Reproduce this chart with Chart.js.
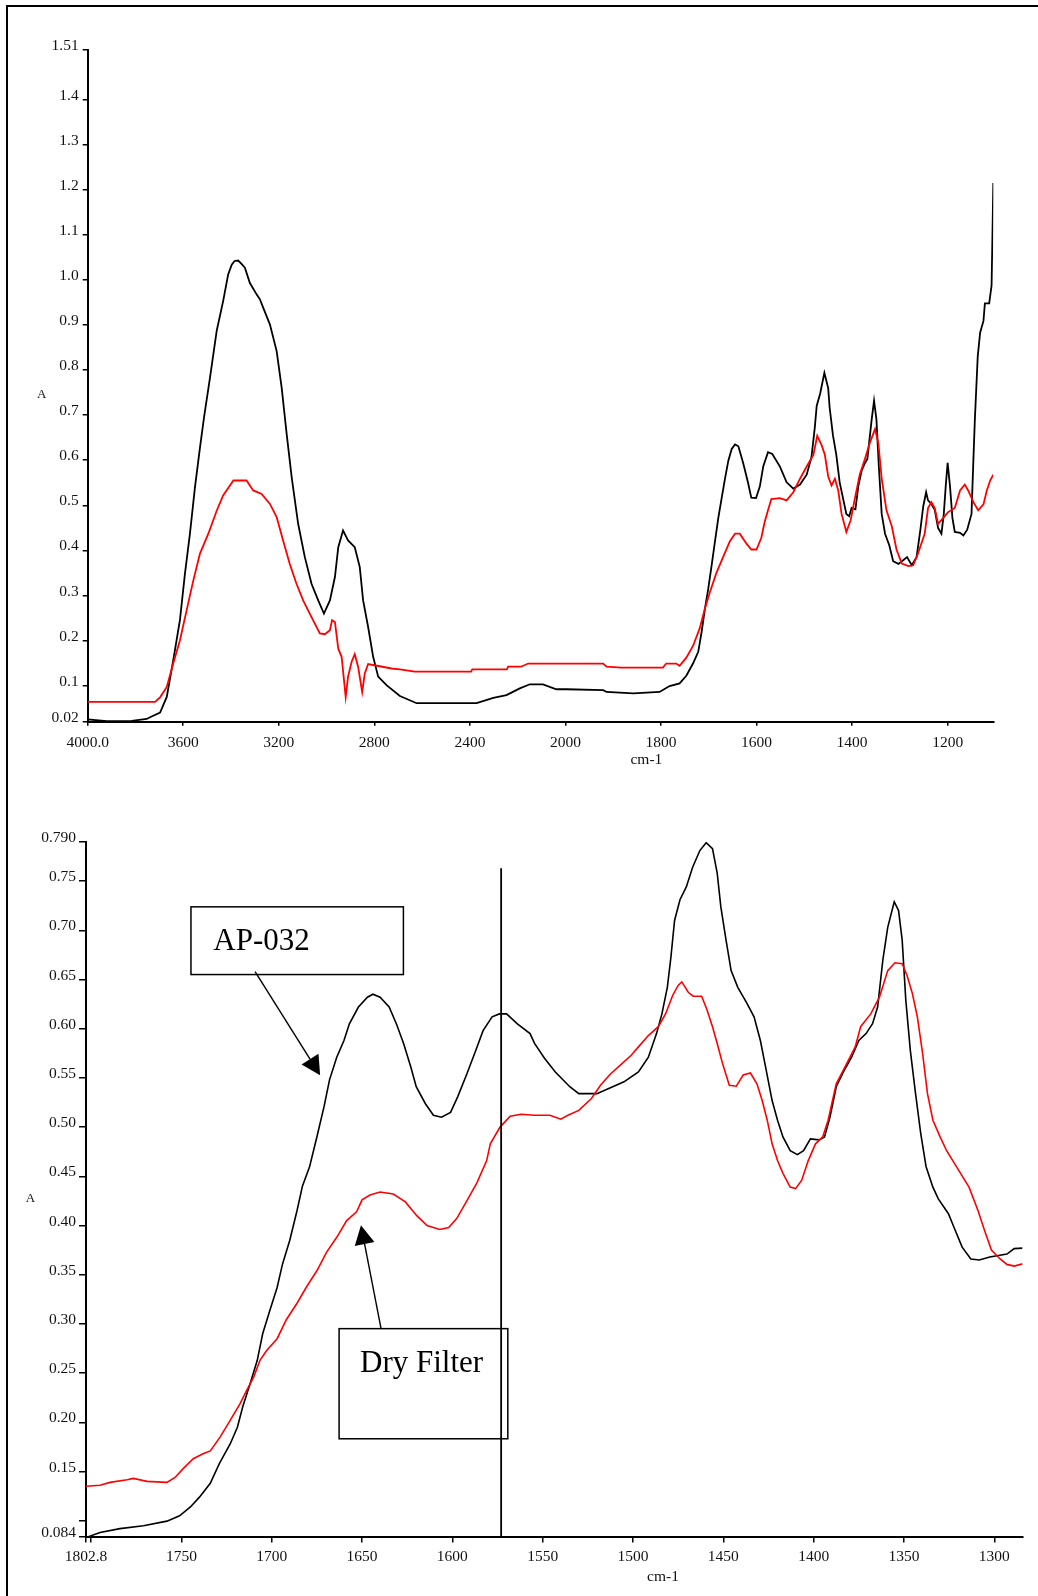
<!DOCTYPE html>
<html>
<head>
<meta charset="utf-8">
<script src="https://cdn.jsdelivr.net/npm/chart.js@4.4.1/dist/chart.umd.min.js"></script>
<style>
  body { margin: 0; background: #fff; }
  #page { position: relative; width: 1038px; height: 1596px; overflow: hidden; background: #fff; }
  #topWrap { position: absolute; left: 0; top: 0; width: 1038px; height: 780px; }
  #botWrap { position: absolute; left: 0; top: 780px; width: 1038px; height: 816px; }
  #frame { position: absolute; left: 6px; top: 5px; width: 1100px; height: 1700px;
           border-left: 2px solid #000; border-top: 2px solid #000; pointer-events: none; }
</style>
</head>
<body>
<div id="page">
  <div id="topWrap"><canvas id="topChart" width="1038" height="780"></canvas></div>
  <div id="botWrap"><canvas id="botChart" width="1038" height="816"></canvas></div>
  <div id="frame"></div>
</div>
<script>
// full spectrum, 4000 - 1105 cm-1 (axis compressed x2 above 2000)
const topBlackWn = [4000, 3920, 3816, 3753, 3739, 3697, 3669, 3642, 3614, 3593, 3572, 3551, 3530, 3513, 3488, 3460, 3433,
  3412, 3397, 3385, 3370, 3355, 3342, 3321, 3293, 3279, 3265, 3237, 3209, 3188, 3167, 3146, 3119, 3091, 3063, 3035, 3011,
  2986, 2965, 2951, 2931, 2910, 2882, 2861, 2847, 2826, 2805, 2784, 2749, 2693, 2623, 2372, 2302, 2247, 2191, 2149, 2094,
  2038, 1998, 1921, 1914, 1858, 1803, 1782, 1761, 1747, 1733, 1722, 1715, 1708, 1701, 1694, 1687, 1680, 1673, 1666, 1659,
  1652, 1645, 1638, 1628, 1618, 1611, 1601, 1593, 1586, 1576, 1567, 1551, 1537, 1523, 1509, 1495, 1485, 1478, 1474, 1467,
  1458, 1450, 1447, 1440, 1433, 1426, 1419, 1412, 1406, 1401, 1393, 1387, 1380, 1373, 1368, 1359, 1354, 1349, 1344, 1338,
  1331, 1322, 1314, 1303, 1293, 1285, 1275, 1265, 1257, 1251, 1245, 1241, 1234, 1227, 1220, 1213, 1208, 1204, 1200, 1195,
  1190, 1185, 1174, 1167, 1159, 1150, 1146, 1143, 1137, 1132, 1125, 1122, 1113, 1108, 1106, 1104.4];
const topBlackAbs = [0.025, 0.021, 0.022, 0.026, 0.030, 0.040, 0.075, 0.156, 0.245, 0.348, 0.437, 0.540, 0.628, 0.695, 0.783, 0.887, 0.953,
  1.012, 1.034, 1.042, 1.043, 1.035, 1.027, 0.993, 0.968, 0.957, 0.938, 0.901, 0.842, 0.761, 0.658, 0.562, 0.459, 0.385, 0.326, 0.289, 0.260,
  0.289, 0.341, 0.407, 0.444, 0.422, 0.407, 0.363, 0.289, 0.230, 0.164, 0.120, 0.101, 0.077, 0.061, 0.061, 0.073, 0.079, 0.094, 0.103, 0.103,
  0.092, 0.092, 0.090, 0.086, 0.083, 0.086, 0.099, 0.105, 0.122, 0.149, 0.175, 0.219, 0.271, 0.315, 0.367, 0.420, 0.472, 0.516, 0.559, 0.599,
  0.625, 0.635, 0.631, 0.594, 0.551, 0.517, 0.516, 0.542, 0.586, 0.618, 0.614, 0.586, 0.551, 0.537, 0.546, 0.568, 0.607, 0.673, 0.721, 0.747,
  0.794, 0.760, 0.717, 0.655, 0.612, 0.551, 0.516, 0.481, 0.476, 0.494, 0.491, 0.542, 0.577, 0.594, 0.603, 0.690, 0.732, 0.690, 0.586, 0.481,
  0.437, 0.411, 0.376, 0.370, 0.378, 0.385, 0.367, 0.385, 0.446, 0.498, 0.529, 0.511, 0.503, 0.490, 0.450, 0.437, 0.481, 0.542, 0.594, 0.542,
  0.472, 0.441, 0.439, 0.433, 0.446, 0.481, 0.603, 0.690, 0.830, 0.883, 0.909, 0.948, 0.948, 0.988, 1.110, 1.215];

const topRedWn = [4000, 3718, 3697, 3669, 3642, 3614, 3586, 3558, 3530, 3495, 3460, 3433, 3390, 3335, 3307, 3272, 3237, 3209,
  3182, 3154, 3126, 3098, 3063, 3028, 3007, 2986, 2977, 2965, 2951, 2937, 2920, 2910, 2895, 2882, 2868, 2851, 2840, 2826,
  2777, 2728, 2693, 2630, 2395, 2390, 2245, 2240, 2186, 2156, 1921, 1914, 1883, 1796, 1789, 1768, 1761, 1747, 1733, 1719,
  1708, 1698, 1684, 1670, 1656, 1645, 1635, 1621, 1611, 1600, 1590, 1583, 1576, 1569, 1551, 1537, 1523, 1509, 1495, 1481,
  1473, 1464, 1457, 1450, 1443, 1436, 1429, 1422, 1412, 1403, 1394, 1384, 1373, 1363, 1352, 1345, 1338, 1328, 1317, 1307,
  1296, 1282, 1272, 1262, 1248, 1241, 1234, 1227, 1220, 1209, 1199, 1185, 1174, 1164, 1157, 1146, 1136, 1125, 1118, 1111, 1104.4];
const topRedAbs = [0.064, 0.064, 0.074, 0.097, 0.149, 0.200, 0.267, 0.333, 0.393, 0.437, 0.488, 0.522, 0.555, 0.555, 0.533, 0.525, 0.503, 0.474,
  0.422, 0.370, 0.326, 0.289, 0.252, 0.216, 0.214, 0.223, 0.245, 0.241, 0.182, 0.164, 0.075, 0.120, 0.153, 0.170, 0.142, 0.086, 0.127, 0.148,
  0.143, 0.138, 0.136, 0.131, 0.131, 0.136, 0.136, 0.142, 0.142, 0.149, 0.149, 0.142, 0.140, 0.140, 0.149, 0.149, 0.144, 0.162, 0.188, 0.227,
  0.271, 0.306, 0.350, 0.385, 0.420, 0.437, 0.437, 0.415, 0.402, 0.402, 0.428, 0.463, 0.489, 0.514, 0.516, 0.511, 0.529, 0.559, 0.586, 0.612,
  0.654, 0.634, 0.612, 0.564, 0.544, 0.559, 0.533, 0.481, 0.441, 0.467, 0.516, 0.568, 0.603, 0.638, 0.669, 0.638, 0.559, 0.489, 0.454, 0.402,
  0.371, 0.365, 0.367, 0.393, 0.437, 0.494, 0.507, 0.494, 0.459, 0.472, 0.485, 0.494, 0.533, 0.546, 0.533, 0.507, 0.489, 0.502, 0.533, 0.555, 0.568];

// expanded region, 1802.8 - 1284 cm-1
const botBlackWn = [1802.8, 1795, 1784, 1771, 1758, 1751, 1745, 1740, 1734, 1729, 1723, 1719, 1716, 1712, 1708, 1705, 1701, 1697,
  1694, 1690, 1686, 1683, 1679, 1675, 1671, 1668, 1664, 1660, 1657, 1652, 1647, 1644, 1640, 1635, 1631, 1627, 1623, 1620, 1615,
  1610.5, 1606, 1601, 1597, 1592, 1587, 1583, 1578, 1574, 1570, 1564, 1557, 1554.5, 1549, 1543, 1535, 1530, 1520, 1512.5, 1505,
  1497, 1491.5, 1487, 1484, 1481, 1479, 1477, 1474, 1470.5, 1467, 1463, 1459.5, 1456, 1453.4, 1451.4, 1448.5, 1445.7, 1442, 1437,
  1433, 1429.5, 1426.6, 1423, 1420, 1417, 1413, 1409, 1405.6, 1401.8, 1397, 1394, 1391, 1387.5, 1383, 1379, 1375, 1371, 1367.4,
  1364.6, 1361.7, 1359, 1355.4, 1353, 1351, 1349, 1346.5, 1343.6, 1340.7, 1337.8, 1334, 1331, 1325.4, 1321.6, 1317.8, 1313,
  1308.3, 1302.5, 1293, 1289, 1284.4];
const botBlackAbs = [0.083, 0.088, 0.092, 0.095, 0.0996, 0.105, 0.114, 0.124, 0.138, 0.158, 0.178, 0.195, 0.216, 0.239, 0.263, 0.290, 0.314, 0.337,
  0.361, 0.385, 0.415, 0.440, 0.460, 0.490, 0.521, 0.548, 0.571, 0.588, 0.605, 0.622, 0.632, 0.635, 0.632, 0.622, 0.605, 0.585, 0.561, 0.541, 0.524,
  0.512, 0.510, 0.515, 0.531, 0.554, 0.578, 0.598, 0.612, 0.615, 0.615, 0.605, 0.595, 0.585, 0.570, 0.556, 0.541, 0.534, 0.534, 0.540, 0.546,
  0.556, 0.571, 0.595, 0.615, 0.642, 0.673, 0.710, 0.731, 0.744, 0.764, 0.781, 0.789, 0.783, 0.758, 0.724, 0.690, 0.659, 0.642, 0.626,
  0.612, 0.588, 0.561, 0.527, 0.507, 0.490, 0.476, 0.472, 0.476, 0.488, 0.487, 0.490, 0.510, 0.541, 0.558, 0.571, 0.588, 0.595, 0.605,
  0.622, 0.670, 0.703, 0.729, 0.720, 0.690, 0.629, 0.578, 0.534, 0.493, 0.460, 0.439, 0.427, 0.412, 0.395, 0.378, 0.366,
  0.365, 0.368, 0.371, 0.3765, 0.377];

const botRedWn = [1802.8, 1795, 1789.5, 1780, 1776.6, 1769, 1758, 1753.5, 1749, 1743.4, 1738, 1734, 1728.6, 1723, 1717.5, 1714, 1710,
  1706.5, 1702.8, 1697, 1692, 1686, 1680.6, 1675, 1669.6, 1664, 1658.5, 1653, 1650, 1645.6, 1640, 1632.7, 1626, 1619.7, 1614, 1607,
  1602, 1597.6, 1592, 1586.5, 1581, 1579, 1573.6, 1568, 1562, 1554.5, 1546, 1540, 1536, 1530, 1523, 1518, 1512.5, 1507, 1501, 1497,
  1491.5, 1486, 1482, 1478, 1475, 1473, 1469.4, 1466.7, 1462, 1459, 1456, 1453.4, 1450.5, 1446.7, 1442.8, 1439, 1435, 1431.4, 1428.5,
  1425.7, 1423, 1420, 1417, 1413, 1410, 1406.6, 1403, 1399, 1395, 1392, 1387.5, 1382.7, 1377, 1374, 1368.4, 1363.6, 1359, 1355, 1351,
  1348.3, 1345.4, 1342.6, 1339.7, 1337, 1334, 1330, 1326.4, 1319.7, 1314, 1309, 1305.4, 1301.6, 1296.8, 1293, 1289, 1284.4];
const botRedAbs = [0.135, 0.136, 0.139, 0.1416, 0.143, 0.140, 0.139, 0.144, 0.153, 0.163, 0.168, 0.171, 0.185, 0.202, 0.219, 0.232, 0.246,
  0.263, 0.273, 0.285, 0.304, 0.321, 0.338, 0.354, 0.373, 0.388, 0.405, 0.414, 0.426, 0.431, 0.434, 0.432, 0.424, 0.410, 0.400, 0.396,
  0.398, 0.407, 0.425, 0.443, 0.466, 0.483, 0.500, 0.511, 0.513, 0.512, 0.512, 0.508, 0.512, 0.517, 0.529, 0.5425, 0.554, 0.563, 0.573, 0.5815,
  0.593, 0.602, 0.615, 0.634, 0.644, 0.6475, 0.637, 0.633, 0.633, 0.619, 0.602, 0.585, 0.565, 0.5425, 0.5415, 0.553, 0.555, 0.544, 0.527,
  0.507, 0.483, 0.466, 0.453, 0.439, 0.4375, 0.446, 0.466, 0.483, 0.490, 0.507, 0.544, 0.561, 0.5815, 0.602, 0.615, 0.632, 0.659, 0.667, 0.666,
  0.654, 0.636, 0.612, 0.575, 0.534, 0.507, 0.490, 0.476, 0.456, 0.439, 0.415, 0.395, 0.375, 0.366, 0.3605, 0.3588, 0.361];

// ticks
const topXTicks = [4000, 3600, 3200, 2800, 2400, 2000, 1800, 1600, 1400, 1200];
const topXLabels = ['4000.0', '3600', '3200', '2800', '2400', '2000', '1800', '1600', '1400', '1200'];
const topYTicks = [0.02, 0.1, 0.2, 0.3, 0.4, 0.5, 0.6, 0.7, 0.8, 0.9, 1.0, 1.1, 1.2, 1.3, 1.4, 1.51];
const topYLabels = ['0.02', '0.1', '0.2', '0.3', '0.4', '0.5', '0.6', '0.7', '0.8', '0.9', '1.0', '1.1', '1.2', '1.3', '1.4', '1.51'];
const botXTicks = [1802.8, 1800, 1750, 1700, 1650, 1600, 1550, 1500, 1450, 1400, 1350, 1300];
const botXLabels = ['1802.8', '', '1750', '1700', '1650', '1600', '1550', '1500', '1450', '1400', '1350', '1300'];
const botYTicks = [0.084, 0.10, 0.15, 0.20, 0.25, 0.30, 0.35, 0.40, 0.45, 0.50, 0.55, 0.60, 0.65, 0.70, 0.75, 0.79];
const botYLabels = ['0.084', '', '0.15', '0.20', '0.25', '0.30', '0.35', '0.40', '0.45', '0.50', '0.55', '0.60', '0.65', '0.70', '0.75', '0.790'];

const SERIF = "'Liberation Serif', 'Times New Roman', serif";
Chart.defaults.font.family = SERIF;
Chart.defaults.color = '#111';

// wavenumber axis with the usual 2x compression above 2000 cm-1
const LinearScale = Chart.LinearScale || Chart.registry.getScale('linear');
const BREAK_WN = 2000;
class IrScale extends LinearScale {
  toU(v) {
    return v >= BREAK_WN ? (this.max - v) / 2 : (this.max - BREAK_WN) / 2 + (BREAK_WN - v);
  }
  getPixelForValue(v) {
    return this.getPixelForDecimal(this.toU(v) / this.toU(this.min));
  }
  getValueForPixel(p) {
    const u = this.getDecimalForPixel(p) * this.toU(this.min);
    const uBreak = (this.max - BREAK_WN) / 2;
    return u <= uBreak ? this.max - 2 * u : BREAK_WN - (u - uBreak);
  }
}
IrScale.id = 'irwave';
IrScale.defaults = LinearScale.defaults;
Chart.register(IrScale);

function points(wn, abs) {
  return wn.map((w, i) => ({ x: w, y: abs[i] }));
}

function lineSet(data, color, width) {
  return {
    data: data,
    borderColor: color,
    borderWidth: width,
    pointRadius: 0,
    tension: 0,
    fill: false
  };
}

function axisStyle(tickLen) {
  return {
    border: { display: true, color: '#000', width: 2 },
    grid: { drawOnChartArea: false, drawTicks: true, tickLength: tickLen, color: '#000', lineWidth: 1.5 }
  };
}

// free text (axis names) drawn at fixed spots
function notesPlugin(notes) {
  return {
    id: 'notes',
    afterDraw(chart) {
      const ctx = chart.ctx;
      ctx.save();
      ctx.fillStyle = '#111';
      ctx.textAlign = 'center';
      ctx.textBaseline = 'middle';
      notes.forEach(n => {
        ctx.font = n.size + 'px ' + SERIF;
        ctx.fillText(n.text, n.x, n.y);
      });
      ctx.restore();
    }
  };
}

// top chart
new Chart(document.getElementById('topChart'), {
  type: 'line',
  data: {
    datasets: [
      lineSet(points(topRedWn, topRedAbs), '#ff0000', 1.8),
      lineSet(points(topBlackWn, topBlackAbs), '#000000', 1.8)
    ]
  },
  options: {
    responsive: false,
    animation: false,
    events: [],
    layout: { padding: { left: 0, top: 50, right: 44.7, bottom: 18.3 } },
    plugins: { legend: { display: false }, tooltip: { enabled: false } },
    scales: {
      x: {
        type: 'irwave',
        min: 1104.4,
        max: 4000,
        bounds: 'data',
        ...axisStyle(4),
        afterBuildTicks: s => { s.ticks = topXTicks.map(v => ({ value: v })); },
        afterFit: s => { s.height = 40; },
        ticks: {
          autoSkip: false, maxRotation: 0, padding: 8,
          font: { size: 15.5 },
          callback: (v, i) => topXLabels[i]
        }
      },
      y: {
        type: 'linear',
        min: 0.02,
        max: 1.51,
        bounds: 'data',
        ...axisStyle(5),
        afterBuildTicks: s => { s.ticks = topYTicks.map(v => ({ value: v })); },
        afterFit: s => { s.width = 87.7; },
        ticks: {
          autoSkip: false, padding: 4, labelOffset: -4,
          font: { size: 15.5 },
          callback: (v, i) => topYLabels[i]
        }
      }
    }
  },
  plugins: [notesPlugin([
    { text: 'A', x: 41.7, y: 395, size: 13 },
    { text: 'cm-1', x: 646.4, y: 760.4, size: 15.5 }
  ])]
});

// bottom chart: labelled boxes, arrows and the marker line, placed in data units
const markerLine = { wn: 1573, top: 0.763 };
const callouts = [
  { text: 'AP-032', box: [1744.7, 0.7238, 1627.1, 0.655], textAt: [1732.3, 0.6798],
    from: [1709.2, 0.658], to: [1673.2, 0.5527] },
  { text: 'Dry Filter', box: [1662.7, 0.2952, 1569.3, 0.1833], textAt: [1651.1, 0.251],
    from: [1639.5, 0.2954], to: [1650.6, 0.4002] }
];

function drawArrow(ctx, x0, y0, x1, y1) {
  const ang = Math.atan2(y1 - y0, x1 - x0);
  const len = 19, half = 10;
  const bx = x1 - len * Math.cos(ang), by = y1 - len * Math.sin(ang);
  ctx.beginPath();
  ctx.moveTo(x0, y0);
  ctx.lineTo(bx, by);
  ctx.stroke();
  ctx.beginPath();
  ctx.moveTo(x1, y1);
  ctx.lineTo(bx + half * Math.sin(ang), by - half * Math.cos(ang));
  ctx.lineTo(bx - half * Math.sin(ang), by + half * Math.cos(ang));
  ctx.closePath();
  ctx.fill();
}

const calloutPlugin = {
  id: 'callouts',
  afterDatasetsDraw(chart) {
    const { ctx, scales: { x, y }, chartArea } = chart;
    ctx.save();
    ctx.strokeStyle = '#000';
    ctx.fillStyle = '#000';

    ctx.lineWidth = 1.8;
    const mx = x.getPixelForValue(markerLine.wn);
    ctx.beginPath();
    ctx.moveTo(mx, y.getPixelForValue(markerLine.top));
    ctx.lineTo(mx, chartArea.bottom);
    ctx.stroke();

    callouts.forEach(c => {
      const bx0 = x.getPixelForValue(c.box[0]), by0 = y.getPixelForValue(c.box[1]);
      const bx1 = x.getPixelForValue(c.box[2]), by1 = y.getPixelForValue(c.box[3]);
      ctx.lineWidth = 1.5;
      ctx.strokeRect(bx0, by0, bx1 - bx0, by1 - by0);
      ctx.font = '31px ' + SERIF;
      ctx.textAlign = 'left';
      ctx.textBaseline = 'alphabetic';
      ctx.fillText(c.text, x.getPixelForValue(c.textAt[0]), y.getPixelForValue(c.textAt[1]));
      ctx.lineWidth = 1.4;
      drawArrow(ctx,
        x.getPixelForValue(c.from[0]), y.getPixelForValue(c.from[1]),
        x.getPixelForValue(c.to[0]), y.getPixelForValue(c.to[1]));
    });
    ctx.restore();
  }
};

new Chart(document.getElementById('botChart'), {
  type: 'line',
  data: {
    datasets: [
      lineSet(points(botRedWn, botRedAbs), '#ff0000', 1.6),
      lineSet(points(botBlackWn, botBlackAbs), '#000000', 1.6)
    ]
  },
  options: {
    responsive: false,
    animation: false,
    events: [],
    layout: { padding: { left: 0, top: 61.7, right: 15.5, bottom: 19.5 } },
    plugins: { legend: { display: false }, tooltip: { enabled: false } },
    scales: {
      x: {
        type: 'linear',
        reverse: true,
        min: 1284.4,
        max: 1802.8,
        bounds: 'data',
        ...axisStyle(6),
        afterBuildTicks: s => { s.ticks = botXTicks.map(v => ({ value: v })); },
        afterFit: s => { s.height = 40; },
        ticks: {
          autoSkip: false, maxRotation: 0, padding: 5,
          font: { size: 15.5 },
          callback: (v, i) => botXLabels[i]
        }
      },
      y: {
        type: 'linear',
        min: 0.084,
        max: 0.79,
        bounds: 'data',
        ...axisStyle(7),
        afterBuildTicks: s => { s.ticks = botYTicks.map(v => ({ value: v })); },
        afterFit: s => { s.width = 86; },
        ticks: {
          autoSkip: false, padding: 3, labelOffset: -4,
          font: { size: 15.5 },
          callback: (v, i) => botYLabels[i]
        }
      }
    }
  },
  plugins: [calloutPlugin, notesPlugin([
    { text: 'A', x: 30.5, y: 419, size: 13 },
    { text: 'cm-1', x: 663, y: 797, size: 15.5 }
  ])]
});
</script>
</body>
</html>
